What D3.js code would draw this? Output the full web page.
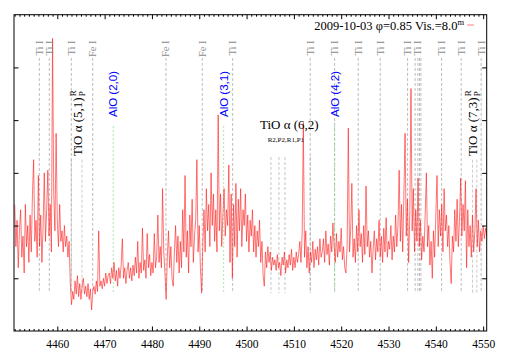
<!DOCTYPE html>
<html>
<head>
<meta charset="utf-8">
<script src="https://d3js.org/d3.v7.min.js"></script>
<style>
  body { margin: 0; background: #fff; }
  svg text { font-family: "Liberation Serif", "DejaVu Serif", serif; }
  .tick line { stroke: #000; }
</style>
</head>
<body>
<script>
// spectrum: start wavelength, step, and relative flux
var lambda0 = 4451.0;
var dLambda = 0.25;
var flux = [
  2.4,1.6,2.1,1.2,1.9,2.3,1.4,1.8,1.1,2.4,1.6,2.0,1.3,2.2,1.5,2.6,3.25,1.7,2.1,1.4,
  2.95,1.6,2.2,1.3,2.0,3.0,1.7,2.3,3.05,1.8,2.4,1.5,5.55,2.6,1.9,3.75,2.1,1.6,2.4,1.7,
  1.9,1.5,2.0,1.6,1.8,1.4,1.7,0.9,0.5,0.75,0.6,0.95,0.7,1.05,0.65,0.9,0.6,0.85,1.0,0.7,
  0.85,0.65,0.9,0.6,0.8,0.4,0.75,0.85,0.7,0.95,0.75,1.9,0.85,0.95,0.8,1.0,0.85,1.1,0.9,1.05,
  1.1,0.9,1.2,1.0,1.3,0.95,1.15,0.85,1.2,1.0,1.25,1.75,1.0,1.2,0.9,1.15,1.3,1.0,1.2,0.95,
  1.25,1.05,1.4,1.1,1.7,1.0,1.3,1.1,1.95,1.15,1.35,1.0,1.85,1.2,1.45,1.05,1.3,1.1,1.85,1.2,
  1.4,2.2,1.3,1.6,1.2,2.7,1.5,1.1,0.6,1.4,1.9,1.2,1.6,1.0,0.85,1.5,2.0,1.3,1.8,1.1,
  1.7,1.2,2.3,1.5,2.95,1.4,1.9,1.1,2.2,1.6,2.5,1.3,1.8,2.1,3.25,1.5,2.0,1.2,0.72,1.6,
  2.3,1.5,2.7,1.9,2.4,1.6,3.0,2.0,2.6,1.7,2.3,1.5,4.1,1.9,2.6,1.6,2.2,2.7,1.8,2.3,
  2.0,3.15,1.3,2.6,1.0,2.4,1.6,2.8,1.4,2.5,1.9,2.7,1.6,2.3,2.0,2.6,1.7,2.2,1.5,2.1,
  1.8,2.3,1.5,2.0,1.4,1.9,1.6,2.1,1.3,1.7,1.05,0.85,1.5,1.2,1.6,1.3,1.5,1.15,1.4,1.25,
  1.35,1.15,1.45,1.2,1.3,1.05,1.4,1.25,1.5,1.1,1.35,1.2,1.45,1.25,1.55,1.15,1.4,1.2,1.5,1.3,
  1.45,1.7,1.3,1.85,3.95,1.4,1.9,1.2,1.6,1.1,1.5,1.3,1.7,1.2,1.55,1.35,1.6,1.25,1.75,1.4,
  1.5,1.75,1.3,1.9,1.45,1.65,1.25,1.8,1.5,2.05,1.6,1.3,1.85,1.4,1.7,1.5,1.95,1.35,1.6,1.2,
  1.1,1.6,3.85,1.5,1.9,2.8,1.4,1.75,1.3,2.0,1.5,2.3,1.6,1.85,1.3,2.0,1.45,2.75,1.6,1.9,
  1.4,1.7,1.1,1.55,1.9,1.35,1.75,1.5,2.1,1.4,1.8,1.3,1.95,1.5,2.15,1.4,1.7,1.55,2.0,1.35,
  1.8,1.5,2.2,1.6,2.0,3.05,1.7,2.4,1.5,2.6,3.75,1.8,2.5,1.3,2.2,4.6,1.9,2.7,1.5,2.3,
  1.7,2.9,1.6,2.1,1.35,1.8,1.5,2.2,3.0,1.6,2.0,1.25,1.7,1.0,1.9,1.4,2.2,2.95,1.6,2.3,
  1.8,2.4,1.5,2.7,1.9,2.2,1.6,2.0,1.3,0.9,1.8,1.5,2.3,1.7,2.5,1.6,2.1,2.9,1.8,2.4,
  1.9,2.85,1.2,2.3,1.6,2.0,1.4,2.2,1.5,1.9,2.7,1.6,2.1,1.5,1.9,1.7,2.0,1.75,1.95,1.8
];

// x tick labels
var xTicks = [4460, 4470, 4480, 4490, 4500, 4510, 4520, 4530, 4540, 4550];

// atomic lines (wavelengths)
var tiLines = [4456.20, 4458.31, 4462.96, 4497.06, 4513.45, 4518.61, 4523.60, 4528.24, 4534.03, 4536.20, 4541.22, 4545.36, 4549.58];
var feLines = [4467.48, 4482.97, 4490.64];
var otherLines = [4535.62, 4536.55, 4536.84];

// AlO band heads
var aloBands = [4471.83, 4495.16, 4518.61];
var aloNames = ["AlO (2,0)", "AlO (3,1)", "AlO (4,2)"];

// TiO heads
var tio51 = [4462.96, 4465.22];
var tio62 = [4505.15, 4506.84, 4508.11, 4513.45];
var tio73 = [4547.76, 4548.67];

var titleText = "2009-10-03 \u03c6=0.85 Vis.=8.0";

var W = 509, H = 356;
var pL = 14, pR = 486.7, pT = 14.7, pB = 331;

var svg = d3.select("body").append("svg").attr("width", W).attr("height", H);

var x = d3.scaleLinear().domain([4450.85, 4550.75]).range([pL, pR]);
var y = d3.scaleLinear().domain([0, 6]).range([pB, pT]);

svg.append("defs").append("clipPath").attr("id", "clip")
  .append("rect").attr("x", pL).attr("y", pT).attr("width", pR - pL).attr("height", pB - pT);

// feature lines
var lineTop = y(5.18), lineBot = y(0.72);
function vline(g, lam, y1, color, dash) {
  g.append("line").attr("x1", x(lam)).attr("x2", x(lam)).attr("y1", y1).attr("y2", lineBot)
    .attr("stroke", color).attr("stroke-width", 0.7).attr("stroke-dasharray", dash);
}
var gl = svg.append("g");
tiLines.concat(feLines, otherLines).forEach(function(l){ vline(gl, l, lineTop, "#a0a0a0", "3,2"); });
tio51.concat(tio73).forEach(function(l){ vline(gl, l, y(3.25), "#b4b4b4", "3,2"); });
tio62.forEach(function(l){ vline(gl, l, y(3.30), "#acacac", "3,2"); });
aloBands.forEach(function(l){ vline(gl, l, y(3.89), "#7fe07f", "2,2"); });

// spectrum
var line = d3.line().x(function(d, i){ return x(lambda0 + i * dLambda); }).y(function(d){ return y(d); });
svg.append("path").datum(flux).attr("clip-path", "url(#clip)")
  .attr("fill", "none").attr("stroke", "#ff1a1a").attr("stroke-width", 0.6).attr("d", line);

// labels for lines
function vlabel(lam, text, dx, yStart, size, color, family) {
  return svg.append("text")
    .attr("transform", "translate(" + (x(lam) + dx) + "," + yStart + ") rotate(-90)")
    .attr("font-size", size).attr("fill", color)
    .style("font-family", family || null)
    .text(text);
}
tiLines.forEach(function(l){ vlabel(l, "Ti I", 3.5, 55.5, 10.5, "#8c8c8c"); });
feLines.forEach(function(l){ vlabel(l, "Fe I", 3.5, 57, 10.5, "#8c8c8c"); });
aloBands.forEach(function(l, i){ vlabel(l, aloNames[i], 4.2, 117, 11.5, "#0000ff", "'Liberation Sans', Arial, sans-serif"); });

function tioLabel(lam, name) {
  var t = vlabel(lam, name, 0.5, 156, 13, "#000");
  var L = t.node().getComputedTextLength();
  var bx = x(lam) + 0.5;
  svg.append("text").attr("transform", "translate(" + (bx - 6) + "," + (156 - L - 1) + ") rotate(-90)")
    .attr("font-size", 9).text("R");
  svg.append("text").attr("transform", "translate(" + (bx + 2.5) + "," + (156 - L - 1) + ") rotate(-90)")
    .attr("font-size", 9).text("P");
}
tioLabel(tio51[1], "TiO \u03b1 (5,1)");
tioLabel(tio73[1], "TiO \u03b1 (7,3)");

svg.append("text").attr("x", 260).attr("y", 128.5).attr("font-size", 13).text("TiO \u03b1 (6,2)");
svg.append("text").attr("x", 267.7).attr("y", 142).attr("font-size", 7).text("R2,P2,R1,P1");

// axes
var minor = d3.range(4451, 4551).filter(function(v){ return v % 10 !== 0; });
svg.append("g").attr("transform", "translate(0," + pB + ")")
  .call(d3.axisBottom(x).tickValues(xTicks).tickSize(-4.5).tickPadding(8.8).tickFormat(d3.format("d")))
  .call(function(g){ g.select(".domain").remove(); g.selectAll("text").attr("font-size", 11.5).attr("fill", "#000")
     .style("font-family", "'Liberation Serif', serif"); });
svg.append("g").attr("transform", "translate(0," + pB + ")")
  .call(d3.axisBottom(x).tickValues(minor).tickSize(-2).tickFormat(""))
  .call(function(g){ g.select(".domain").remove(); });
svg.append("g").attr("transform", "translate(0," + pT + ")")
  .call(d3.axisTop(x).tickValues(xTicks).tickSize(-4.5).tickFormat(""))
  .call(function(g){ g.select(".domain").remove(); });
svg.append("g").attr("transform", "translate(0," + pT + ")")
  .call(d3.axisTop(x).tickValues(minor).tickSize(-2).tickFormat(""))
  .call(function(g){ g.select(".domain").remove(); });
svg.append("g").attr("transform", "translate(" + pL + ",0)")
  .call(d3.axisLeft(y).tickValues([1, 2, 3, 4, 5]).tickSize(-4.5).tickFormat(""))
  .call(function(g){ g.select(".domain").remove(); });
svg.append("g").attr("transform", "translate(" + pR + ",0)")
  .call(d3.axisRight(y).tickValues([1, 2, 3, 4, 5]).tickSize(-4.5).tickFormat(""))
  .call(function(g){ g.select(".domain").remove(); });

svg.append("rect").attr("x", pL).attr("y", pT).attr("width", pR - pL).attr("height", pB - pT)
  .attr("fill", "none").attr("stroke", "#000").attr("stroke-width", 1);

// title / key
var title = svg.append("text").attr("x", 314.3).attr("y", 29.5).attr("font-size", 12.5).text(titleText);
title.append("tspan").attr("dy", -5).attr("font-size", 8.5).text("m");
svg.append("line").attr("x1", 467).attr("x2", 474).attr("y1", 25).attr("y2", 25)
  .attr("stroke", "#ff8080").attr("stroke-width", 1);
</script>
</body>
</html>
